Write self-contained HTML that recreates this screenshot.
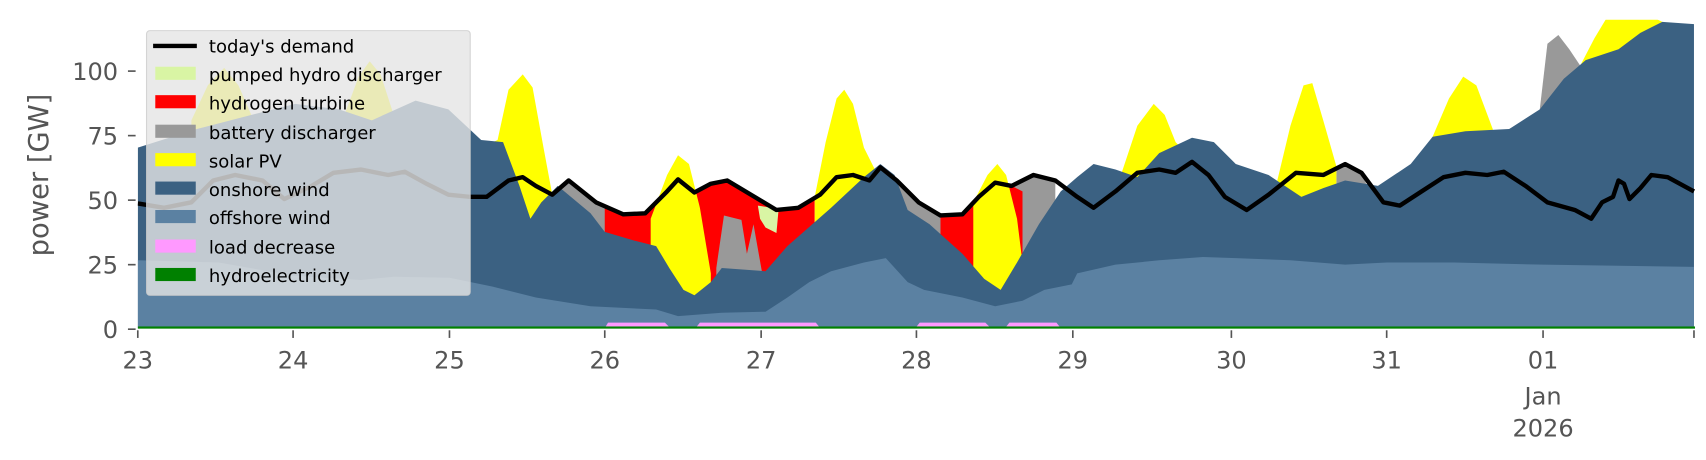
<!DOCTYPE html>
<html><head><meta charset="utf-8"><style>
body{margin:0;background:#fff;}
svg{display:block;}
svg text{font-family:"DejaVu Sans","Liberation Sans",sans-serif;}
</style></head><body>
<svg width="1706" height="460" viewBox="0 0 1560 420.6" xmlns="http://www.w3.org/2000/svg">
<defs><clipPath id="c"><rect x="126" y="18" width="1424" height="283"/></clipPath></defs>
<g clip-path="url(#c)">
<polygon fill="#999" points="500,175 505,178 520,165 545,185 560,190 560,300 500,300"/>
<polygon fill="#999" points="805,153 820,165 840,185 865,197 865,300 805,300"/>
<polygon fill="#999" points="925,170 945,160 965,165 965,300 925,300"/>
<polygon fill="#999" points="1222,152 1230,150 1245,158 1250,170 1250,300 1222,300"/>
<polygon fill="#999" points="1408,100 1415,40 1425,32 1435,45 1445,60 1445,300 1408,300"/>
<polygon fill="#f00" points="553,190 570,196 590,195 610,175 620,164 635,176 650,168 665,165 690,180 710,192 730,190 745,180 745,300 553,300"/>
<polygon fill="#f00" points="860,197 880,196 895,180 910,167 925,170 935,175 935,300 860,300"/>
<polygon fill="#999" points="655,245 662,197 678,201 683,232 689,205 697,250 697,300 655,300"/>
<polygon fill="#d9f5a4" points="693,188 712,191 710,213 700,208 695,200"/>
<polygon fill="#ff0" points="175,110 190,78 205,62 218,78 232,110 232,300 175,300"/>
<polygon fill="#ff0" points="315,105 328,70 338,56 348,68 360,105 360,300 315,300"/>
<polygon fill="#ff0" points="440,135 455,128 465,82 478,68 487,80 497,135 505,178 505,300 440,300"/>
<polygon fill="#ff0" points="595,200 610,160 620,142 630,150 640,190 650,250 650,300 595,300"/>
<polygon fill="#ff0" points="745,180 755,130 765,90 772,82 780,95 790,135 800,155 800,300 745,300"/>
<polygon fill="#ff0" points="890,185 903,160 912,150 920,160 930,200 935,240 935,300 890,300"/>
<polygon fill="#ff0" points="1025,160 1040,115 1055,95 1065,105 1075,130 1085,140 1085,300 1025,300"/>
<polygon fill="#ff0" points="1168,165 1180,115 1192,78 1200,76 1210,110 1222,152 1222,300 1168,300"/>
<polygon fill="#ff0" points="1310,125 1325,90 1338,70 1350,78 1365,118 1365,300 1310,300"/>
<polygon fill="#ff0" points="1445,60 1458,35 1470,15 1500,10 1520,20 1520,300 1445,300"/>
<polygon fill="#3b6182" points="126,135 180,118 230,105 270,95 310,100 340,110 380,92 410,100 440,128 460,130 475,170 485,200 495,185 510,170 540,195 553,212 580,220 600,225 612,245 625,265 635,270 650,258 660,245 700,248 720,225 760,190 790,162 805,150 818,160 830,192 850,205 880,232 900,255 915,265 930,240 950,205 970,175 985,162 1000,150 1020,155 1040,162 1060,140 1090,126 1110,130 1130,150 1160,160 1190,180 1210,172 1230,165 1260,170 1290,150 1310,125 1340,120 1380,118 1408,100 1430,72 1450,55 1480,45 1500,30 1520,20 1549,22 1549,300 126,300"/>
<polygon fill="#5b81a2" points="126,238 200,240 268,252 330,256 360,253 411,254 450,262 490,272 540,280 600,283 620,289 660,286 700,285 720,272 740,258 760,248 790,240 810,236 830,258 845,265 880,272 910,280 935,275 955,265 980,260 985,250 1020,242 1060,238 1100,235 1130,236 1180,238 1230,242 1268,240 1330,240 1411,242 1549,244 1549,300 126,300"/>
<g fill="#ff99ff">
<polygon points="553,300 556,295 608,295 613,300"/>
<polygon points="636,300 640,295 746,295 750,300"/>
<polygon points="837,300 841,295 901,295 906,300"/>
<polygon points="919,300 923,295 966,295 970,300"/>
</g>
<rect x="126" y="298.5" width="1424" height="2" fill="#008000"/>
<polyline fill="none" stroke="#000" stroke-width="4" stroke-linejoin="round" points="126,186 150,190 175,185 195,165 215,160 240,165 260,182 285,170 305,158 330,155 355,160 370,157 390,168 410,178 430,180 445,180 465,165 478,162 490,170 505,178 520,165 545,185 570,196 590,195 610,175 620,164 635,176 650,168 665,165 690,180 710,192 730,190 750,178 765,162 780,160 795,165 805,153 820,165 840,185 860,197 880,196 895,180 910,167 925,170 945,160 965,165 985,180 1000,190 1020,175 1040,158 1060,155 1075,158 1090,148 1105,160 1120,180 1140,192 1160,178 1185,158 1210,160 1230,150 1245,158 1265,185 1280,188 1300,175 1320,162 1340,158 1360,160 1375,157 1395,170 1415,185 1440,192 1455,200 1465,185 1475,180 1480,165 1485,168 1490,182 1500,172 1510,160 1525,162 1549,175"/>
</g>
<rect x="134" y="28" width="296" height="242" rx="3" fill="#e5e5e5" fill-opacity="0.8" stroke="#ccc" stroke-opacity="0.8"/>
<g font-size="16.5" fill="#000">
<line x1="140" y1="42" x2="180" y2="42" stroke="#000" stroke-width="4"/>
<text x="191" y="48">today's demand</text>
<rect x="142" y="61" width="37" height="12" fill="#d9f5a4"/><text x="191" y="74">pumped hydro discharger</text>
<rect x="142" y="87" width="37" height="12" fill="#f00"/><text x="191" y="100">hydrogen turbine</text>
<rect x="142" y="114" width="37" height="12" fill="#999"/><text x="191" y="127">battery discharger</text>
<rect x="142" y="140" width="37" height="12" fill="#ff0"/><text x="191" y="153">solar PV</text>
<rect x="142" y="166" width="37" height="12" fill="#3b6182"/><text x="191" y="179">onshore wind</text>
<rect x="142" y="192" width="37" height="12" fill="#5b81a2"/><text x="191" y="205">offshore wind</text>
<rect x="142" y="219" width="37" height="12" fill="#ff99ff"/><text x="191" y="232">load decrease</text>
<rect x="142" y="245" width="37" height="12" fill="#008000"/><text x="191" y="258">hydroelectricity</text>
</g>
<g fill="#555" font-size="22" text-anchor="end">
<text x="108" y="73">100</text><text x="108" y="132">75</text><text x="108" y="191">50</text><text x="108" y="250">25</text><text x="108" y="309">0</text>
</g>
<g stroke="#555" stroke-width="1.5">
<line x1="117" y1="65" x2="124" y2="65"/><line x1="117" y1="124" x2="124" y2="124"/><line x1="117" y1="183" x2="124" y2="183"/><line x1="117" y1="242" x2="124" y2="242"/><line x1="117" y1="301" x2="124" y2="301"/>
<line x1="126" y1="302" x2="126" y2="309"/><line x1="268" y1="302" x2="268" y2="309"/><line x1="411" y1="302" x2="411" y2="309"/><line x1="553" y1="302" x2="553" y2="309"/><line x1="696" y1="302" x2="696" y2="309"/><line x1="838" y1="302" x2="838" y2="309"/><line x1="981" y1="302" x2="981" y2="309"/><line x1="1126" y1="302" x2="1126" y2="309"/><line x1="1268" y1="302" x2="1268" y2="309"/><line x1="1411" y1="302" x2="1411" y2="309"/><line x1="1549" y1="302" x2="1549" y2="309"/>
</g>
<text transform="translate(44,160) rotate(-90)" fill="#555" font-size="25" text-anchor="middle">power [GW]</text>
<g fill="#555" font-size="22" text-anchor="middle">
<text x="126" y="337">23</text><text x="268" y="337">24</text><text x="411" y="337">25</text><text x="553" y="337">26</text><text x="696" y="337">27</text><text x="838" y="337">28</text><text x="981" y="337">29</text><text x="1126" y="337">30</text><text x="1268" y="337">31</text><text x="1411" y="337">01</text>
<text x="1411" y="370">Jan</text><text x="1411" y="399">2026</text>
</g>
</svg>
</body></html>
